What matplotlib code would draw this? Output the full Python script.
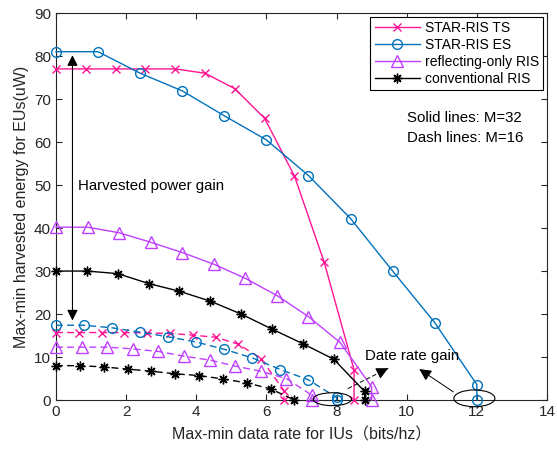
import numpy as np
import matplotlib.pyplot as plt
from matplotlib.patches import Ellipse

plt.rcParams['font.family'] = ['Liberation Sans', 'Noto Sans CJK SC', 'DejaVu Sans']

# M=32 (solid lines)
ts32_x = [0, 0.85, 1.7, 2.55, 3.4, 4.25, 5.1, 5.95, 6.8, 7.65, 8.5, 8.5]
ts32_y = [77, 77, 77, 77, 77, 76, 72.4, 65.5, 52.1, 32, 7, 0]
es32_x = [0, 1.2, 2.4, 3.6, 4.8, 6.0, 7.2, 8.4, 9.6, 10.8, 12, 12]
es32_y = [81, 81, 76, 71.9, 66.1, 60.5, 52.2, 42.2, 30, 18, 3.6, 0]
ro32_x = [0, 0.9, 1.8, 2.7, 3.6, 4.5, 5.4, 6.3, 7.2, 8.1, 9.0, 9.0]
ro32_y = [40.2, 40.2, 38.9, 36.7, 34.3, 31.6, 28.3, 24.3, 19.4, 13.4, 3.1, 0]
cv32_x = [0, 0.88, 1.76, 2.64, 3.52, 4.4, 5.28, 6.16, 7.04, 7.92, 8.8, 8.8]
cv32_y = [30, 30, 29.4, 27.1, 25.3, 23, 20, 16.5, 13.1, 9.5, 2, 0]

# M=16 (dashed lines)
ts16_x = [0, 0.65, 1.3, 1.95, 2.6, 3.25, 3.9, 4.55, 5.2, 5.85, 6.5, 6.5]
ts16_y = [15.7, 15.7, 15.7, 15.7, 15.6, 15.5, 15.1, 14.6, 13.0, 9.6, 2.2, 0]
es16_x = [0, 0.8, 1.6, 2.4, 3.2, 4.0, 4.8, 5.6, 6.4, 7.2, 8.0, 8.0]
es16_y = [17.4, 17.4, 16.8, 15.8, 14.7, 13.5, 11.8, 9.8, 7.1, 4.7, 0.6, 0]
ro16_x = [0, 0.73, 1.46, 2.19, 2.92, 3.65, 4.38, 5.11, 5.84, 6.57, 7.3, 7.3]
ro16_y = [12.3, 12.3, 12.3, 11.9, 11.3, 10.2, 9.3, 7.9, 6.7, 5.0, 1.1, 0]
cv16_x = [0, 0.68, 1.36, 2.04, 2.72, 3.4, 4.08, 4.76, 5.44, 6.12, 6.8]
cv16_y = [8.0, 8.0, 7.7, 7.2, 6.7, 6.1, 5.7, 4.9, 4.0, 2.6, 0]

labels = ['STAR-RIS TS', 'STAR-RIS ES', 'reflecting-only RIS', 'conventional RIS']
colors = ['#FF1493', '#0072BD', '#BF40FF', '#000000']
markers = ['x', 'o', '^', (8, 2, 0)]
msizes = [6, 7, 8, 7]

fig = plt.figure(figsize=(5.57, 4.49), dpi=100)
ax = fig.add_axes([0.1005, 0.109, 0.8815, 0.862])

solid = [(ts32_x, ts32_y), (es32_x, es32_y), (ro32_x, ro32_y), (cv32_x, cv32_y)]
dashed = [(ts16_x, ts16_y), (es16_x, es16_y), (ro16_x, ro16_y), (cv16_x, cv16_y)]

for (x, y), lab, c, m, ms in zip(solid, labels, colors, markers, msizes):
    ax.plot(x, y, color=c, marker=m, ms=ms, mfc='none', mew=1.0, lw=1.0,
            label=lab, clip_on=False, zorder=3)
for (x, y), c, m, ms in zip(dashed, colors, markers, msizes):
    ax.plot(x, y, color=c, marker=m, ms=ms, mfc='none', mew=1.0, lw=1.0,
            linestyle=(0, (5, 3)), clip_on=False, zorder=3)

ax.set_xlim(0, 14)
ax.set_ylim(0, 90)
ax.set_xticks(np.arange(0, 15, 2))
ax.set_yticks(np.arange(0, 91, 10))
ax.tick_params(direction='in', top=True, right=True, labelsize=11,
               colors='#262626', length=4)
for s in ax.spines.values():
    s.set_color('#262626')
    s.set_linewidth(0.8)

ax.set_xlabel('Max-min data rate for IUs（bits/hz）', fontsize=11.5,
              color='#262626', labelpad=6)
ax.set_ylabel('Max-min harvested energy for EUs(uW)', fontsize=11.5,
              color='#262626', labelpad=4)

leg = ax.legend(loc='upper right', fontsize=10, handlelength=3.3, fancybox=False,
                edgecolor='black', framealpha=1, borderpad=0.3, labelspacing=0.2,
                handletextpad=0.3, borderaxespad=0.3)
leg.get_frame().set_linewidth(0.8)
leg.set_zorder(5)

ax.text(10.0, 65.7, 'Solid lines: M=32', fontsize=10.8, va='center')
ax.text(10.0, 61.0, 'Dash lines: M=16', fontsize=10.8, va='center')

# harvested power gain
ax.text(0.63, 49.8, 'Harvested power gain', fontsize=10.8, va='center')
ax.annotate('', xy=(0.47, 80.2), xytext=(0.47, 18.5),
            arrowprops=dict(arrowstyle='<|-|>', color='black', lw=0.8,
                            mutation_scale=16, shrinkA=0, shrinkB=0))

# data rate gain
ax.text(8.81, 10.2, 'Date rate gain', fontsize=10.8, va='center')
ax.add_patch(Ellipse((7.88, 0.2), 1.09, 3.0, fill=False, color='black', lw=0.8,
                     clip_on=False, zorder=4))
ax.add_patch(Ellipse((11.93, 0.4), 1.17, 3.9, fill=False, color='black', lw=0.8,
                     clip_on=False, zorder=4))
ax.annotate('', xy=(9.47, 7.4), xytext=(8.33, 2.7),
            arrowprops=dict(arrowstyle='-', color='black', lw=0.7,
                            linestyle=(0, (4, 3)), shrinkA=0, shrinkB=0))
ax.annotate('', xy=(9.47, 7.4), xytext=(9.2, 6.3),
            arrowprops=dict(arrowstyle='-|>', color='black', lw=0.7,
                            mutation_scale=18, shrinkA=0, shrinkB=0))
ax.annotate('', xy=(10.36, 7.2), xytext=(11.33, 1.9),
            arrowprops=dict(arrowstyle='-|>', color='black', lw=0.7,
                            mutation_scale=18, shrinkA=0, shrinkB=0))

fig.savefig('out.png', dpi=100)
